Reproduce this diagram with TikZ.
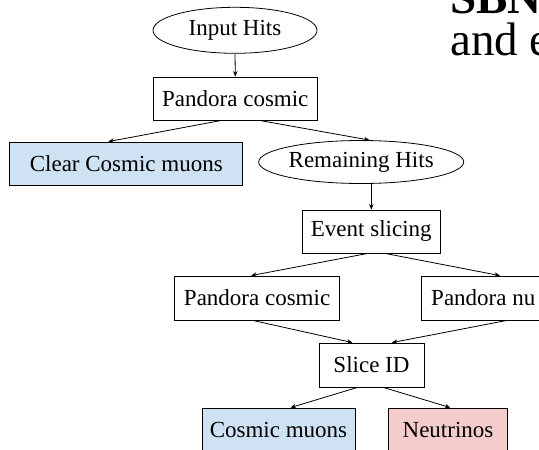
\documentclass[tikz,border=0pt]{standalone}
\usepackage{fontspec}
\setmainfont{Liberation Serif}
\usetikzlibrary{arrows.meta,shapes.geometric}
\definecolor{cosmicblue}{HTML}{CFE2F3}
\definecolor{nupink}{HTML}{F4CCCC}
\tikzset{
>={Stealth[length=5.5pt,width=4.5pt]},
hits node/.style={ellipse,draw,line width=0.8pt,inner sep=0pt},
algo node/.style={rectangle,draw,line width=0.8pt,inner sep=0pt},
freccia/.style={->,line width=0.8pt}}

\begin{document}
\begin{tikzpicture}[x=1pt,y=-1pt,font=\fontsize{23}{27}\selectfont]
\useasboundingbox (0,0) rectangle (539,450);
\clip (0,0) rectangle (539,450);

\node[hits node,minimum width=164pt,minimum height=46pt] (hits) at (235,30.3) {Input Hits};
\node[algo node,minimum width=164pt,minimum height=43pt] (pc1) at (235.3,98.5) {Pandora cosmic};
\node[algo node,fill=cosmicblue,minimum width=233pt,minimum height=43pt] (ccm) at (126.3,163.5) {Clear Cosmic muons};
\node[hits node,minimum width=202pt,minimum height=43pt] (rem) at (361.2,162) {Remaining Hits};
\node[algo node,minimum width=137.5pt,minimum height=43pt] (evs) at (371.3,231.5) {Event slicing};
\node[algo node,minimum width=165pt,minimum height=44pt] (pc2) at (257.1,298) {Pandora cosmic};
\node[algo node,minimum width=123.5pt,minimum height=44pt] (pnu) at (483.3,298) {Pandora nu};
\node[algo node,minimum width=105pt,minimum height=44pt] (sid) at (371.5,365) {Slice ID};
\node[algo node,fill=cosmicblue,minimum width=153pt,minimum height=44pt] (cmu) at (278.5,430) {Cosmic muons};
\node[algo node,fill=nupink,minimum width=119pt,minimum height=44pt] (neu) at (448,430) {Neutrinos};

% slide title, cut off by the frame
\node[anchor=base west,inner sep=0pt,font=\bfseries\fontsize{47}{50}\selectfont] (ttl1) at (450,13) {SBND};
\node[anchor=base west,inner sep=0pt,font=\fontsize{47}{50}\selectfont] (ttl2) at (450,55) {and e};

\path[freccia] (hits.south) edge (pc1.north);
\path[freccia] ([xshift=-13.6pt]pc1.south) edge ([xshift=-18pt]ccm.north);
\path[freccia] ([xshift=24.2pt]pc1.south) edge ([xshift=8.3pt]rem.north);
\path[freccia] (rem.south -| evs.north) edge (evs.north);
\path[freccia] ([xshift=-3.5pt]evs.south) edge ([xshift=-6pt]pc2.north);
\path[freccia] ([xshift=13.7pt]evs.south) edge ([xshift=16.7pt]pnu.north);
\path[freccia] ([xshift=-4.4pt]pc2.south) edge ([xshift=-19pt]sid.north);
\path[freccia] ([xshift=23.7pt]pnu.south) edge ([xshift=20.4pt]sid.north);
\path[freccia] ([xshift=-14pt]sid.south) edge ([xshift=12pt]cmu.north);
\path[freccia] ([xshift=11.8pt]sid.south) edge ([xshift=2.3pt]neu.north);

\end{tikzpicture}
\end{document}
